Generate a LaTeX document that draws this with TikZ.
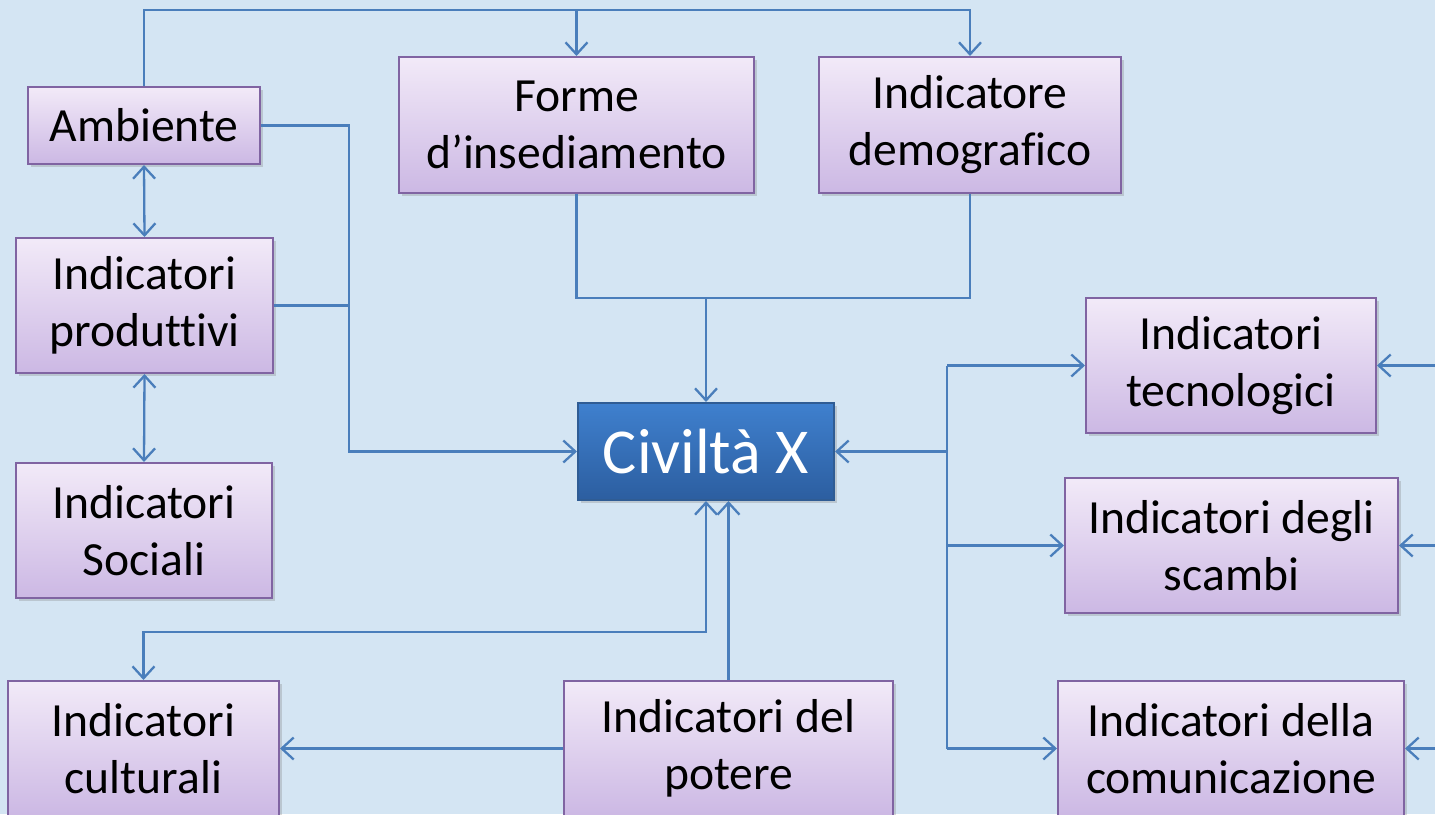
\documentclass[tikz,border=0pt]{standalone}
\usepackage{fontspec}
\setmainfont{Carlito}[Ligatures=NoCommon]
\usepackage{tikz}
\usepackage{xcolor}
\usetikzlibrary{arrows.meta,shadows}

\begin{document}
\begin{tikzpicture}[x=0.5pt,y=-0.5pt,
  box/.style={draw=boxline,line width=1pt,shading=axis,top color=boxtop,bottom color=boxbot,
    align=center,inner sep=0pt,font=\fontsize{23.8}{28.5}\selectfont,
    drop shadow={shadow xshift=1.5pt,shadow yshift=-1.5pt,opacity=0.3}},
  civbox/.style={draw=civline,line width=1pt,shading=axis,top color=civtop,bottom color=civbot,
    text=white,inner sep=0pt,minimum width=128pt,minimum height=48.5pt,font=\fontsize{32}{38}\selectfont,
    drop shadow={shadow xshift=1.5pt,shadow yshift=-1.5pt,opacity=0.3}},
  conn/.style={draw=connblue,line width=1.15pt},
  tip/.style={conn,-{Straight Barb[length=6pt,width=11pt]}},
  tips/.style={conn,{Straight Barb[length=6pt,width=11pt]}-{Straight Barb[length=6pt,width=11pt]}}]
\definecolor{bg}{HTML}{D4E5F3}
\definecolor{boxtop}{HTML}{F2EAF8}
\definecolor{boxbot}{HTML}{CCB8E4}
\definecolor{boxline}{HTML}{8064A2}
\definecolor{civtop}{HTML}{3F80CE}
\definecolor{civbot}{HTML}{2C5EA0}
\definecolor{civline}{HTML}{2F5C94}
\definecolor{connblue}{HTML}{4A7EBB}
  \fill[bg] (0,0) rectangle (1435,814);
  \useasboundingbox (0,0) rectangle (1435,814);
  % boxes
  \node [box,minimum width=116pt,minimum height=38.5pt] (amb) at (144,125.5) {Ambiente};
  \node [box,minimum width=177.5pt,minimum height=68pt] (forme) at (576.5,125) {Forme\\d’insediamento};
  \node [box,minimum width=151pt,minimum height=68pt] (demo) at (970,125) {Indicatore\\demografico};
  \node [box,minimum width=128.5pt,minimum height=67.5pt] (prod) at (144.5,305.5) {Indicatori\\produttivi};
  \node [box,minimum width=128pt,minimum height=67.5pt] (soc) at (144,530.5) {Indicatori\\Sociali};
  \node [box,minimum width=145pt,minimum height=67.5pt] (tec) at (1231,365.5) {Indicatori\\tecnologici};
  \node [civbox] (civ) at (706,451.5) {Civiltà X};
  \node [box,minimum width=166.5pt,minimum height=67.5pt] (sca) at (1231.5,545.5) {Indicatori degli\\scambi};
  \node [box,minimum width=135.5pt,minimum height=67.5pt] (cul) at (143.5,748.5) {Indicatori\\culturali};
  \node [box,minimum width=164.5pt,minimum height=67.5pt] (pot) at (728.5,748.5) {Indicatori del\\potere};
  \node [box,minimum width=173pt,minimum height=67.5pt] (com) at (1231,748.5) {Indicatori della\\comunicazione};
  % junctions
  \coordinate (top) at (970,10);
  \coordinate (lj) at (349,451.5);
  \coordinate (mj) at (706,298);
  \coordinate (cj) at (706,632);
  \coordinate (rr) at (947,0);
  \coordinate (edge) at (1435,0);
  % connectors
  \draw [tip] (amb.north) |- (top) -- (demo.north);
  \draw [tip] (forme.north |- top) -- (forme.north);
  \draw [tip] (amb.east) -| (lj) -- (civ.west);
  \draw [conn] (prod.east) -- (prod.east -| lj);
  \draw [tips] (amb.south) -- (prod.north);
  \draw [tips] (prod.south) -- (soc.north);
  \draw [conn] (forme.south) |- (mj) -| (demo.south);
  \draw [tip] (mj) -- (civ.north);
  \draw [tips] (civ.south) -- (cj) -| (cul.north);
  \draw [tip] (pot.north) -- (pot.north |- civ.south);
  \draw [tip] (pot.west) -- (cul.east);
  \draw [conn] (tec.west -| rr) -- (com.west -| rr);
  \draw [tip] (civ.east -| rr) -- (civ.east);
  \draw [tip] (tec.west -| rr) -- (tec.west);
  \draw [tip] (sca.west -| rr) -- (sca.west);
  \draw [tip] (com.west -| rr) -- (com.west);
  \draw [tip] (tec.east -| edge) -- (tec.east);
  \draw [tip] (sca.east -| edge) -- (sca.east);
  \draw [tip] (com.east -| edge) -- (com.east);
\end{tikzpicture}
\end{document}
